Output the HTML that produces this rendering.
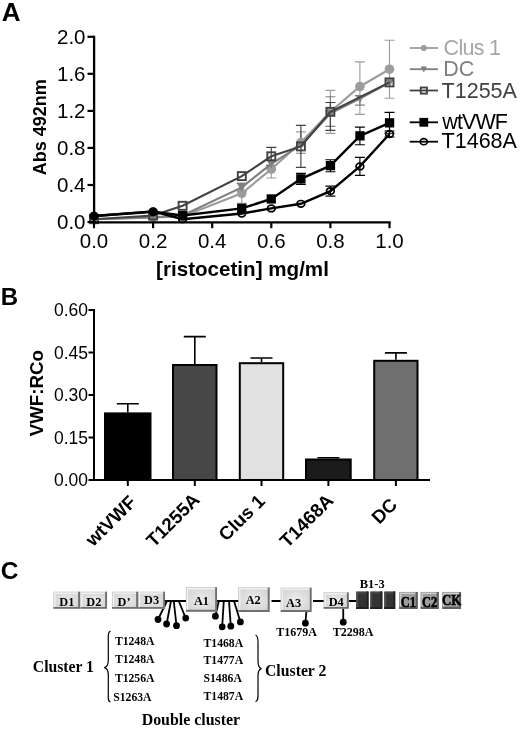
<!DOCTYPE html><html><head><meta charset="utf-8"><style>html,body{margin:0;padding:0;background:#fff}svg{display:block;filter:grayscale(1) blur(0.35px)}text{font-family:"Liberation Sans",sans-serif}.s{font-family:"Liberation Serif",serif;font-weight:bold}</style></head><body>
<svg width="520" height="729" viewBox="0 0 520 729">
<rect width="520" height="729" fill="#fff"/>
<text x="1.8" y="20.6" font-size="26" font-weight="bold">A</text>
<text x="0.7" y="304.5" font-size="24" font-weight="bold">B</text>
<text x="0.8" y="579.3" font-size="24.5" font-weight="bold">C</text>
<path d="M241.8,183.3 V203.3 M236.8,183.3 h10 M236.8,203.3 h10" stroke="#9c9c9c" stroke-width="1.15" fill="none"/>
<path d="M271.3,160.4 V178.0 M266.3,160.4 h10 M266.3,178.0 h10" stroke="#9c9c9c" stroke-width="1.15" fill="none"/>
<path d="M300.9,131.8 V153.4 M295.9,131.8 h10 M295.9,153.4 h10" stroke="#9c9c9c" stroke-width="1.15" fill="none"/>
<path d="M330.4,90.3 V133.3 M325.4,90.3 h10 M325.4,133.3 h10" stroke="#9c9c9c" stroke-width="1.15" fill="none"/>
<path d="M359.9,61.8 V114.3 M354.9,61.8 h10 M354.9,114.3 h10" stroke="#9c9c9c" stroke-width="1.15" fill="none"/>
<path d="M389.5,40.2 V98.2 M384.5,40.2 h10 M384.5,98.2 h10" stroke="#9c9c9c" stroke-width="1.15" fill="none"/>
<path d="M241.8,183.4 V191.4 M236.8,183.4 h10 M236.8,191.4 h10" stroke="#7f7f7f" stroke-width="1.15" fill="none"/>
<path d="M330.4,96.7 V126.4 M325.4,96.7 h10 M325.4,126.4 h10" stroke="#7f7f7f" stroke-width="1.15" fill="none"/>
<path d="M359.9,95.6 V105.1 M354.9,95.6 h10 M354.9,105.1 h10" stroke="#7f7f7f" stroke-width="1.15" fill="none"/>
<path d="M271.3,147.3 V165.3 M266.3,147.3 h10 M266.3,165.3 h10" stroke="#424242" stroke-width="1.15" fill="none"/>
<path d="M300.9,125.4 V167.4 M295.9,125.4 h10 M295.9,167.4 h10" stroke="#424242" stroke-width="1.15" fill="none"/>
<path d="M330.4,102.5 V130.3 M325.4,102.5 h10 M325.4,130.3 h10" stroke="#424242" stroke-width="1.15" fill="none"/>
<path d="M300.9,173.3 V184.3 M295.9,173.3 h10 M295.9,184.3 h10" stroke="#000" stroke-width="1.15" fill="none"/>
<path d="M330.4,159.7 V171.7 M325.4,159.7 h10 M325.4,171.7 h10" stroke="#000" stroke-width="1.15" fill="none"/>
<path d="M359.9,127.1 V144.7 M354.9,127.1 h10 M354.9,144.7 h10" stroke="#000" stroke-width="1.15" fill="none"/>
<path d="M389.5,112.4 V133.2 M384.5,112.4 h10 M384.5,133.2 h10" stroke="#000" stroke-width="1.15" fill="none"/>
<path d="M330.4,186.1 V196.1 M325.4,186.1 h10 M325.4,196.1 h10" stroke="#000" stroke-width="1.15" fill="none"/>
<path d="M359.9,157.4 V175.4 M354.9,157.4 h10 M354.9,175.4 h10" stroke="#000" stroke-width="1.15" fill="none"/>
<path d="M389.5,131.0 V137.0 M384.5,131.0 h10 M384.5,137.0 h10" stroke="#000" stroke-width="1.15" fill="none"/>
<polyline points="94.0,219.2 153.1,217.4 182.6,216.4 241.8,193.3 271.3,169.2 300.9,142.6 330.4,111.8 359.9,86.5 389.5,69.2" fill="none" stroke="#9c9c9c" stroke-width="2.15"/>
<circle cx="94.0" cy="219.2" r="4.8" fill="#9c9c9c"/>
<circle cx="153.1" cy="217.4" r="4.8" fill="#9c9c9c"/>
<circle cx="182.6" cy="216.4" r="4.8" fill="#9c9c9c"/>
<circle cx="241.8" cy="193.3" r="4.8" fill="#9c9c9c"/>
<circle cx="271.3" cy="169.2" r="4.8" fill="#9c9c9c"/>
<circle cx="300.9" cy="142.6" r="4.8" fill="#9c9c9c"/>
<circle cx="330.4" cy="111.8" r="4.8" fill="#9c9c9c"/>
<circle cx="359.9" cy="86.5" r="4.8" fill="#9c9c9c"/>
<circle cx="389.5" cy="69.2" r="4.8" fill="#9c9c9c"/>
<polyline points="94.0,219.2 153.1,217.4 182.6,215.5 241.8,187.4 271.3,163.8 300.9,145.1 330.4,113.4 359.9,98.6 389.5,82.6" fill="none" stroke="#7f7f7f" stroke-width="2.15"/>
<path d="M89.7,215.8 L98.3,215.8 L94.0,223.5 Z" fill="#7f7f7f"/>
<path d="M148.8,213.9 L157.4,213.9 L153.1,221.7 Z" fill="#7f7f7f"/>
<path d="M178.3,212.1 L186.9,212.1 L182.6,219.8 Z" fill="#7f7f7f"/>
<path d="M237.4,183.9 L246.1,183.9 L241.8,191.7 Z" fill="#7f7f7f"/>
<path d="M267.0,160.4 L275.6,160.4 L271.3,168.1 Z" fill="#7f7f7f"/>
<path d="M296.6,141.7 L305.2,141.7 L300.9,149.4 Z" fill="#7f7f7f"/>
<path d="M326.1,109.9 L334.7,109.9 L330.4,117.7 Z" fill="#7f7f7f"/>
<path d="M355.6,95.1 L364.2,95.1 L359.9,102.9 Z" fill="#7f7f7f"/>
<path d="M385.2,79.2 L393.8,79.2 L389.5,86.9 Z" fill="#7f7f7f"/>
<polyline points="94.0,219.2 153.1,215.5 182.6,205.8 241.8,176.1 271.3,156.3 300.9,146.4 330.4,111.8 389.5,82.4" fill="none" stroke="#424242" stroke-width="2.15"/>
<rect x="90.0" y="215.2" width="8.0" height="8.0" fill="none" stroke="#424242" stroke-width="1.9"/>
<rect x="149.1" y="211.5" width="8.0" height="8.0" fill="none" stroke="#424242" stroke-width="1.9"/>
<rect x="178.6" y="201.8" width="8.0" height="8.0" fill="none" stroke="#424242" stroke-width="1.9"/>
<rect x="237.8" y="172.1" width="8.0" height="8.0" fill="none" stroke="#424242" stroke-width="1.9"/>
<rect x="267.3" y="152.3" width="8.0" height="8.0" fill="none" stroke="#424242" stroke-width="1.9"/>
<rect x="296.9" y="142.4" width="8.0" height="8.0" fill="none" stroke="#424242" stroke-width="1.9"/>
<rect x="326.4" y="107.8" width="8.0" height="8.0" fill="none" stroke="#424242" stroke-width="1.9"/>
<rect x="385.5" y="78.4" width="8.0" height="8.0" fill="none" stroke="#424242" stroke-width="1.9"/>
<polyline points="94.0,216.0 153.1,211.8 182.6,215.5 241.8,208.4 271.3,198.9 300.9,178.8 330.4,165.7 359.9,135.9 389.5,122.8" fill="none" stroke="#000" stroke-width="2.4"/>
<circle cx="94.0" cy="216.0" r="4.4" fill="#000"/>
<circle cx="153.1" cy="211.8" r="4.4" fill="#000"/>
<rect x="178.0" y="210.9" width="9.3" height="9.3" fill="#000"/>
<rect x="237.1" y="203.7" width="9.3" height="9.3" fill="#000"/>
<rect x="266.6" y="194.3" width="9.3" height="9.3" fill="#000"/>
<rect x="296.2" y="174.2" width="9.3" height="9.3" fill="#000"/>
<rect x="325.8" y="161.0" width="9.3" height="9.3" fill="#000"/>
<rect x="355.3" y="131.2" width="9.3" height="9.3" fill="#000"/>
<rect x="384.9" y="118.2" width="9.3" height="9.3" fill="#000"/>
<polyline points="94.0,216.0 153.1,211.4 182.6,219.2 241.8,213.5 271.3,208.4 300.9,203.8 330.4,191.1 359.9,166.4 389.5,134.0" fill="none" stroke="#000" stroke-width="2.4"/>
<ellipse cx="94.0" cy="216.0" rx="3.85" ry="3.30" fill="none" stroke="#000" stroke-width="1.7"/>
<ellipse cx="153.1" cy="211.4" rx="3.85" ry="3.30" fill="none" stroke="#000" stroke-width="1.7"/>
<ellipse cx="182.6" cy="219.2" rx="3.85" ry="3.30" fill="none" stroke="#000" stroke-width="1.7"/>
<ellipse cx="241.8" cy="213.5" rx="3.85" ry="3.30" fill="none" stroke="#000" stroke-width="1.7"/>
<ellipse cx="271.3" cy="208.4" rx="3.85" ry="3.30" fill="none" stroke="#000" stroke-width="1.7"/>
<ellipse cx="300.9" cy="203.8" rx="3.85" ry="3.30" fill="none" stroke="#000" stroke-width="1.7"/>
<ellipse cx="330.4" cy="191.1" rx="3.85" ry="3.30" fill="none" stroke="#000" stroke-width="1.7"/>
<ellipse cx="359.9" cy="166.4" rx="3.85" ry="3.30" fill="none" stroke="#000" stroke-width="1.7"/>
<ellipse cx="389.5" cy="134.0" rx="3.85" ry="3.30" fill="none" stroke="#000" stroke-width="1.7"/>
<path d="M94.1,35.8 V223.4 M93,222.3 H390.6" stroke="#000" stroke-width="2.3" fill="none"/>
<path d="M87.5,222.0 H94" stroke="#000" stroke-width="2.2"/>
<text x="85.5" y="229.0" font-size="20.5" text-anchor="end">0.0</text>
<path d="M87.5,185.0 H94" stroke="#000" stroke-width="2.2"/>
<text x="85.5" y="192.0" font-size="20.5" text-anchor="end">0.4</text>
<path d="M87.5,147.9 H94" stroke="#000" stroke-width="2.2"/>
<text x="85.5" y="154.9" font-size="20.5" text-anchor="end">0.8</text>
<path d="M87.5,110.9 H94" stroke="#000" stroke-width="2.2"/>
<text x="85.5" y="117.9" font-size="20.5" text-anchor="end">1.2</text>
<path d="M87.5,73.8 H94" stroke="#000" stroke-width="2.2"/>
<text x="85.5" y="80.8" font-size="20.5" text-anchor="end">1.6</text>
<path d="M87.5,36.8 H94" stroke="#000" stroke-width="2.2"/>
<text x="85.5" y="43.8" font-size="20.5" text-anchor="end">2.0</text>
<path d="M94.0,222 V228.2" stroke="#000" stroke-width="2.2"/>
<text x="94.0" y="247.6" font-size="20.5" text-anchor="middle">0.0</text>
<path d="M153.1,222 V228.2" stroke="#000" stroke-width="2.2"/>
<text x="153.1" y="247.6" font-size="20.5" text-anchor="middle">0.2</text>
<path d="M212.2,222 V228.2" stroke="#000" stroke-width="2.2"/>
<text x="212.2" y="247.6" font-size="20.5" text-anchor="middle">0.4</text>
<path d="M271.3,222 V228.2" stroke="#000" stroke-width="2.2"/>
<text x="271.3" y="247.6" font-size="20.5" text-anchor="middle">0.6</text>
<path d="M330.4,222 V228.2" stroke="#000" stroke-width="2.2"/>
<text x="330.4" y="247.6" font-size="20.5" text-anchor="middle">0.8</text>
<path d="M389.5,222 V228.2" stroke="#000" stroke-width="2.2"/>
<text x="389.5" y="247.6" font-size="20.5" text-anchor="middle">1.0</text>
<text transform="translate(46.4,127.3) rotate(-90)" font-size="18" font-weight="bold" text-anchor="middle">Abs 492nm</text>
<text x="242.5" y="276" font-size="20.6" font-weight="bold" text-anchor="middle">[ristocetin] mg/ml</text>
<path d="M409.7,48 H438" stroke="#9c9c9c" stroke-width="1.8"/>
<circle cx="423.8" cy="48.0" r="3.0" fill="#9c9c9c"/>
<text x="443.6" y="54.800000000000004" font-size="21.5" fill="#a6a6a6" textLength="57.3" lengthAdjust="spacing">Clus 1</text>
<path d="M409.7,69.2 H438" stroke="#7f7f7f" stroke-width="1.8"/>
<path d="M420.6,66.6 L427.0,66.6 L423.8,72.4 Z" fill="#7f7f7f"/>
<text x="443.3" y="75.6" font-size="21.5" fill="#7f7f7f">DC</text>
<path d="M409.7,90.5 H438" stroke="#424242" stroke-width="1.8"/>
<rect x="420.8" y="87.5" width="6.1" height="6.1" fill="none" stroke="#424242" stroke-width="1.9"/>
<text x="441.6" y="97.5" font-size="21.5" fill="#424242">T1255A</text>
<path d="M409.7,122.3 H438" stroke="#000" stroke-width="1.8"/>
<rect x="419.4" y="117.9" width="8.8" height="8.8" fill="#000"/>
<text x="442.3" y="128.7" font-size="21.5" fill="#000" textLength="65.6" lengthAdjust="spacing">wtVWF</text>
<path d="M409.7,141.7 H438" stroke="#000" stroke-width="1.8"/>
<ellipse cx="423.8" cy="141.7" rx="3.58" ry="3.07" fill="none" stroke="#000" stroke-width="1.7"/>
<text x="441.6" y="148.29999999999998" font-size="21.5" fill="#000">T1468A</text>
<path d="M94,309 V481 M93,480 H430" stroke="#000" stroke-width="2" fill="none"/>
<path d="M88.5,480.0 H94" stroke="#000" stroke-width="2"/>
<text x="88" y="486.1" font-size="17.5" text-anchor="end">0.00</text>
<path d="M88.5,437.5 H94" stroke="#000" stroke-width="2"/>
<text x="88" y="443.6" font-size="17.5" text-anchor="end">0.15</text>
<path d="M88.5,395.0 H94" stroke="#000" stroke-width="2"/>
<text x="88" y="401.1" font-size="17.5" text-anchor="end">0.30</text>
<path d="M88.5,352.5 H94" stroke="#000" stroke-width="2"/>
<text x="88" y="358.6" font-size="17.5" text-anchor="end">0.45</text>
<path d="M88.5,310.0 H94" stroke="#000" stroke-width="2"/>
<text x="88" y="316.1" font-size="17.5" text-anchor="end">0.60</text>
<path d="M127.8,412.4 V403.8 M116.8,403.8 h22" stroke="#000" stroke-width="1.6" fill="none"/>
<rect x="105" y="413.4" width="45.5" height="66.6" fill="#000000" stroke="#000" stroke-width="2"/>
<path d="M127.8,480 V486" stroke="#000" stroke-width="2"/>
<text transform="translate(137.3,503.3) rotate(-45)" font-size="18.7" font-weight="bold" text-anchor="end">wtVWF</text>
<path d="M194.8,364 V336.6 M183.8,336.6 h22" stroke="#000" stroke-width="1.6" fill="none"/>
<rect x="173" y="365" width="43.5" height="115.0" fill="#474747" stroke="#000" stroke-width="2"/>
<path d="M194.8,480 V486" stroke="#000" stroke-width="2"/>
<text transform="translate(200.9,500.9) rotate(-45)" font-size="18.7" font-weight="bold" text-anchor="end">T1255A</text>
<path d="M261.5,362.2 V358 M250.5,358 h22" stroke="#000" stroke-width="1.6" fill="none"/>
<rect x="239.8" y="363.2" width="43.4" height="116.8" fill="#e1e1e1" stroke="#000" stroke-width="2"/>
<path d="M261.5,480 V486" stroke="#000" stroke-width="2"/>
<text transform="translate(266.0,502.4) rotate(-45)" font-size="18.7" font-weight="bold" text-anchor="end">Clus 1</text>
<path d="M328.4,458.5 V457.7 M317.4,457.7 h22" stroke="#000" stroke-width="1.6" fill="none"/>
<rect x="306" y="459.5" width="44.7" height="20.5" fill="#1b1b1b" stroke="#000" stroke-width="2"/>
<path d="M328.4,480 V486" stroke="#000" stroke-width="2"/>
<text transform="translate(334.6,501.6) rotate(-45)" font-size="18.7" font-weight="bold" text-anchor="end">T1468A</text>
<path d="M395.9,359.8 V352.9 M384.9,352.9 h22" stroke="#000" stroke-width="1.6" fill="none"/>
<rect x="374.2" y="360.8" width="43.3" height="119.2" fill="#6f6f6f" stroke="#000" stroke-width="2"/>
<path d="M395.9,480 V486" stroke="#000" stroke-width="2"/>
<text transform="translate(398.4,505.9) rotate(-45)" font-size="18.7" font-weight="bold" text-anchor="end">DC</text>
<text transform="translate(43,393.2) rotate(-90)" font-size="18.7" font-weight="bold" text-anchor="middle">VWF:RCo</text>
<defs><radialGradient id="g1" cx="50%" cy="50%" r="75%"><stop offset="0" stop-color="#ececec"/><stop offset="1" stop-color="#d0d0d0"/></radialGradient></defs>
<path d="M165,601 H187 M217,601 H239 M271.5,601 H282 M313,601 H324 M348,601 H357" stroke="#000" stroke-width="1.8"/>
<path d="M167,601 L158,619.5" stroke="#000" stroke-width="1.8"/><circle cx="158" cy="619.5" r="3.4" fill="#000"/>
<path d="M171,601 L166.6,624" stroke="#000" stroke-width="1.8"/><circle cx="166.6" cy="624" r="3.4" fill="#000"/>
<path d="M173.75,601 L176.5,625.7" stroke="#000" stroke-width="1.8"/><circle cx="176.5" cy="625.7" r="3.4" fill="#000"/>
<path d="M178.75,601 L185.7,618.1" stroke="#000" stroke-width="1.8"/><circle cx="185.7" cy="618.1" r="3.4" fill="#000"/>
<path d="M218.8,601 L215.4,616.2" stroke="#000" stroke-width="1.8"/><circle cx="215.4" cy="616.2" r="3.4" fill="#000"/>
<path d="M223.8,601 L222.2,626.8" stroke="#000" stroke-width="1.8"/><circle cx="222.2" cy="626.8" r="3.4" fill="#000"/>
<path d="M229,601 L230.8,626.2" stroke="#000" stroke-width="1.8"/><circle cx="230.8" cy="626.2" r="3.4" fill="#000"/>
<path d="M234,601 L240.4,621.9" stroke="#000" stroke-width="1.8"/><circle cx="240.4" cy="621.9" r="3.4" fill="#000"/>
<path d="M306.5,610 L305.4,623.2" stroke="#000" stroke-width="1.8"/><circle cx="305.4" cy="623.2" r="3.4" fill="#000"/>
<path d="M343.25,608 L343.25,622.2" stroke="#000" stroke-width="1.8"/><circle cx="343.25" cy="622.2" r="3.4" fill="#000"/>
<rect x="53.5" y="591.8" width="26.5" height="17.0" fill="#d8d8d8"/><rect x="55.0" y="593.3" width="23.5" height="14.0" fill="url(#g1)"/><path d="M53.9,608.8 V592.1999999999999 H80" stroke="#c2c2c2" stroke-width="0.8" fill="none"/><path d="M54.9,607.3 V593.1999999999999 H78.5" stroke="#f6f6f6" stroke-width="1.2" fill="none"/><path d="M53.5,607.9 H79.1 V591.8" stroke="#707070" stroke-width="1.9" fill="none"/><text class="s" transform="translate(66.8,605.5) scale(1,1)" font-size="12.3" text-anchor="middle" fill="#000" stroke="#000" stroke-width="0">D1</text>
<rect x="80.5" y="591.8" width="26.5" height="17.0" fill="#d8d8d8"/><rect x="82.0" y="593.3" width="23.5" height="14.0" fill="url(#g1)"/><path d="M80.9,608.8 V592.1999999999999 H107" stroke="#c2c2c2" stroke-width="0.8" fill="none"/><path d="M81.9,607.3 V593.1999999999999 H105.5" stroke="#f6f6f6" stroke-width="1.2" fill="none"/><path d="M80.5,607.9 H106.1 V591.8" stroke="#707070" stroke-width="1.9" fill="none"/><text class="s" transform="translate(93.8,605.5) scale(1,1)" font-size="12.3" text-anchor="middle" fill="#000" stroke="#000" stroke-width="0">D2</text>
<rect x="112" y="591.8" width="26" height="17.0" fill="#d8d8d8"/><rect x="113.5" y="593.3" width="23" height="14.0" fill="url(#g1)"/><path d="M112.4,608.8 V592.1999999999999 H138" stroke="#c2c2c2" stroke-width="0.8" fill="none"/><path d="M113.4,607.3 V593.1999999999999 H136.5" stroke="#f6f6f6" stroke-width="1.2" fill="none"/><path d="M112,607.9 H137.1 V591.8" stroke="#707070" stroke-width="1.9" fill="none"/><text class="s" transform="translate(124.0,605.8) scale(1,1)" font-size="12.3" text-anchor="middle" fill="#000" stroke="#000" stroke-width="0">D’</text>
<rect x="138.25" y="591.8" width="26.75" height="17.0" fill="#d8d8d8"/><rect x="139.75" y="593.3" width="23.75" height="14.0" fill="url(#g1)"/><path d="M138.65,608.8 V592.1999999999999 H165" stroke="#c2c2c2" stroke-width="0.8" fill="none"/><path d="M139.65,607.3 V593.1999999999999 H163.5" stroke="#f6f6f6" stroke-width="1.2" fill="none"/><path d="M138.25,607.9 H164.1 V591.8" stroke="#707070" stroke-width="1.9" fill="none"/><text class="s" transform="translate(151.6,604.0) scale(1,1)" font-size="12.3" text-anchor="middle" fill="#000" stroke="#000" stroke-width="0">D3</text>
<rect x="186" y="587.25" width="31" height="24.450000000000045" fill="#d8d8d8"/><rect x="187.5" y="588.75" width="28" height="21.450000000000045" fill="url(#g1)"/><path d="M186.4,611.7 V587.65 H217" stroke="#c2c2c2" stroke-width="0.8" fill="none"/><path d="M187.4,610.2 V588.65 H215.5" stroke="#f6f6f6" stroke-width="1.2" fill="none"/><path d="M186,610.8000000000001 H216.1 V587.25" stroke="#707070" stroke-width="1.9" fill="none"/><text class="s" transform="translate(201.5,604.5) scale(1,1)" font-size="12.3" text-anchor="middle" fill="#000" stroke="#000" stroke-width="0">A1</text>
<rect x="238.4" y="587.5" width="31.200000000000017" height="24.399999999999977" fill="#d8d8d8"/><rect x="239.9" y="589.0" width="28.200000000000017" height="21.399999999999977" fill="url(#g1)"/><path d="M238.8,611.9 V587.9 H269.6" stroke="#c2c2c2" stroke-width="0.8" fill="none"/><path d="M239.8,610.4 V588.9 H268.1" stroke="#f6f6f6" stroke-width="1.2" fill="none"/><path d="M238.4,611.0 H268.70000000000005 V587.5" stroke="#707070" stroke-width="1.9" fill="none"/><text class="s" transform="translate(253.2,604.3) scale(1,1)" font-size="12.3" text-anchor="middle" fill="#000" stroke="#000" stroke-width="0">A2</text>
<rect x="280.8" y="587.8" width="30.80000000000001" height="24.100000000000023" fill="#d8d8d8"/><rect x="282.3" y="589.3" width="27.80000000000001" height="21.100000000000023" fill="url(#g1)"/><path d="M281.2,611.9 V588.1999999999999 H311.6" stroke="#c2c2c2" stroke-width="0.8" fill="none"/><path d="M282.2,610.4 V589.1999999999999 H310.1" stroke="#f6f6f6" stroke-width="1.2" fill="none"/><path d="M280.8,611.0 H310.70000000000005 V587.8" stroke="#707070" stroke-width="1.9" fill="none"/><text class="s" transform="translate(293.6,607.2) scale(1,1)" font-size="12.3" text-anchor="middle" fill="#000" stroke="#000" stroke-width="0">A3</text>
<rect x="323.75" y="592.5" width="25.0" height="16.25" fill="#d8d8d8"/><rect x="325.25" y="594.0" width="22.0" height="13.25" fill="url(#g1)"/><path d="M324.15,608.75 V592.9 H348.75" stroke="#c2c2c2" stroke-width="0.8" fill="none"/><path d="M325.15,607.25 V593.9 H347.25" stroke="#f6f6f6" stroke-width="1.2" fill="none"/><path d="M323.75,607.85 H347.85 V592.5" stroke="#707070" stroke-width="1.9" fill="none"/><text class="s" transform="translate(336.2,605.8) scale(1,1)" font-size="12.3" text-anchor="middle" fill="#000" stroke="#000" stroke-width="0">D4</text>
<rect x="356.2" y="591.6" width="12.300000000000011" height="17.299999999999955" fill="#333333"/><path d="M356.59999999999997,608.9 V592.0 H368.5" stroke="#555" stroke-width="0.8" fill="none"/><path d="M357.59999999999997,607.4 V593.0 H367.0" stroke="#4c4c4c" stroke-width="1.2" fill="none"/><path d="M356.2,608.0 H367.6 V591.6" stroke="#202020" stroke-width="1.9" fill="none"/>
<rect x="370.3" y="591.6" width="12.0" height="17.299999999999955" fill="#333333"/><path d="M370.7,608.9 V592.0 H382.3" stroke="#555" stroke-width="0.8" fill="none"/><path d="M371.7,607.4 V593.0 H380.8" stroke="#4c4c4c" stroke-width="1.2" fill="none"/><path d="M370.3,608.0 H381.40000000000003 V591.6" stroke="#202020" stroke-width="1.9" fill="none"/>
<rect x="384.2" y="591.6" width="11.0" height="17.299999999999955" fill="#333333"/><path d="M384.59999999999997,608.9 V592.0 H395.2" stroke="#555" stroke-width="0.8" fill="none"/><path d="M385.59999999999997,607.4 V593.0 H393.7" stroke="#4c4c4c" stroke-width="1.2" fill="none"/><path d="M384.2,608.0 H394.3 V591.6" stroke="#202020" stroke-width="1.9" fill="none"/>
<rect x="399.2" y="592" width="18.400000000000034" height="16.700000000000045" fill="#9e9e9e"/><path d="M399.59999999999997,608.7 V592.4 H417.6" stroke="#999" stroke-width="0.8" fill="none"/><path d="M400.59999999999997,607.2 V593.4 H416.1" stroke="#cdcdcd" stroke-width="1.2" fill="none"/><path d="M399.2,607.8000000000001 H416.70000000000005 V592" stroke="#606060" stroke-width="2.2" fill="none"/><text class="s" transform="translate(408.4,606.7) scale(0.93,1.16)" font-size="13.3" text-anchor="middle" fill="#000" stroke="#000" stroke-width="0.55">C1</text>
<rect x="420.7" y="592" width="17.900000000000034" height="16.700000000000045" fill="#9e9e9e"/><path d="M421.09999999999997,608.7 V592.4 H438.6" stroke="#999" stroke-width="0.8" fill="none"/><path d="M422.09999999999997,607.2 V593.4 H437.1" stroke="#cdcdcd" stroke-width="1.2" fill="none"/><path d="M420.7,607.8000000000001 H437.70000000000005 V592" stroke="#606060" stroke-width="2.2" fill="none"/><text class="s" transform="translate(429.6,606.7) scale(0.93,1.16)" font-size="13.3" text-anchor="middle" fill="#000" stroke="#000" stroke-width="0.55">C2</text>
<rect x="442.3" y="592" width="18.599999999999966" height="16.700000000000045" fill="#9e9e9e"/><path d="M442.7,608.7 V592.4 H460.9" stroke="#999" stroke-width="0.8" fill="none"/><path d="M443.7,607.2 V593.4 H459.4" stroke="#cdcdcd" stroke-width="1.2" fill="none"/><path d="M442.3,607.8000000000001 H460.0 V592" stroke="#606060" stroke-width="2.2" fill="none"/><text class="s" transform="translate(451.6,604.6) scale(1.02,1.17)" font-size="12.6" text-anchor="middle" fill="#000" stroke="#000" stroke-width="0.45">CK</text>
<text class="s" x="372.2" y="587.8" font-size="12.45" text-anchor="middle">B1-3</text>
<text class="s" x="317" y="636.3" font-size="12" text-anchor="end">T1679A</text>
<text class="s" x="373.3" y="636.3" font-size="12" text-anchor="end">T2298A</text>
<text class="s" x="114.9" y="645" font-size="11.7">T1248A</text>
<text class="s" x="114.9" y="663" font-size="11.7">T1248A</text>
<text class="s" x="114.9" y="682" font-size="11.7">T1256A</text>
<text class="s" x="113.2" y="700.5" font-size="11.7">S1263A</text>
<text class="s" x="203.5" y="647.2" font-size="11.7">T1468A</text>
<text class="s" x="203.5" y="664.2" font-size="11.7">T1477A</text>
<text class="s" x="203.5" y="681.5" font-size="11.7">S1486A</text>
<text class="s" x="203.5" y="699.7" font-size="11.7">T1487A</text>
<text class="s" x="32.8" y="671.7" font-size="15.7">Cluster 1</text>
<text class="s" x="265" y="675.5" font-size="15.75">Cluster 2</text>
<text class="s" x="141.7" y="725" font-size="15.9">Double cluster</text>
<path d="M110.5,631 C107.5,632 108.3,636 108.3,640 V660 C108.3,665 107,667 104.3,667.6 C107,668.2 108.3,670 108.3,675 V693 C108.3,698 107.5,701 110.5,702" stroke="#000" stroke-width="1.2" fill="none"/>
<path d="M255.5,635 C258.5,636 258,640 258,644 V661 C258,666 259,668 261.5,668.6 C259,669.2 258,671 258,676 V692 C258,697 258.5,700.7 255.5,701.7" stroke="#000" stroke-width="1.2" fill="none"/>
</svg></body></html>
